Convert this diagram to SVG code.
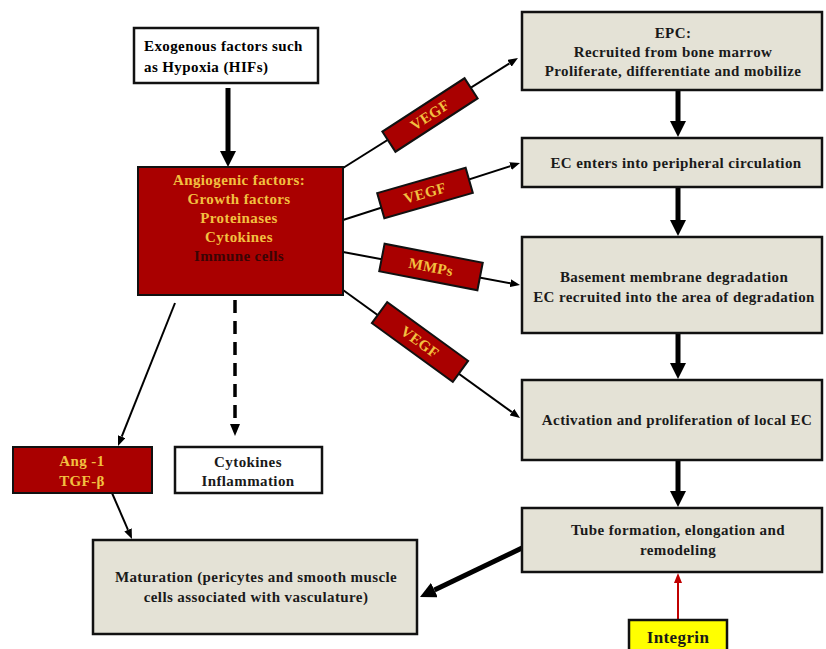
<svg xmlns="http://www.w3.org/2000/svg" width="826" height="649" viewBox="0 0 826 649">
<defs>
<style>
text{font-family:"Liberation Serif","Times New Roman",serif;font-weight:bold;font-size:15px;letter-spacing:0.4px;text-anchor:middle}
.box{fill:#E4E2D6;stroke:#111;stroke-width:2.5}
.wbox{fill:#fff;stroke:#111;stroke-width:2.5}
.rbox{fill:#A90000;stroke:#111;stroke-width:2}
.lbl{fill:#A90000;stroke:#111;stroke-width:2}
.dk{fill:#1a1a1a}
.yl{fill:#F2C040}
.thick{stroke:#000;stroke-width:5;fill:none}
.thin{stroke:#000;stroke-width:2;fill:none}
</style>
<marker id="big" viewBox="0 0 16 16" markerWidth="16" markerHeight="16" markerUnits="userSpaceOnUse" refX="0" refY="8" orient="auto"><path d="M0,0 L16,8 L0,16 z" fill="#000"/></marker>
<marker id="sm" viewBox="0 0 10 8" markerWidth="10" markerHeight="8" markerUnits="userSpaceOnUse" refX="0" refY="4" orient="auto"><path d="M0,0 L10,4 L0,8 z" fill="#000"/></marker>
<marker id="smr" viewBox="0 0 10 8" markerWidth="10" markerHeight="8" markerUnits="userSpaceOnUse" refX="0" refY="4" orient="auto"><path d="M0,0 L10,4 L0,8 z" fill="#C00000"/></marker>
<marker id="mid" viewBox="0 0 12 10" markerWidth="12" markerHeight="10" markerUnits="userSpaceOnUse" refX="0" refY="5" orient="auto"><path d="M0,0 L12,5 L0,10 z" fill="#000"/></marker>
</defs>
<rect width="826" height="649" fill="#fff"/>

<g id="connectors">
<line class="thick" x1="228" y1="88" x2="228" y2="151" marker-end="url(#big)"/>
<line class="thin" x1="343" y1="168" x2="509.5" y2="63.3" marker-end="url(#sm)"/>
<line class="thin" x1="343" y1="220" x2="510.5" y2="166.1" marker-end="url(#sm)"/>
<line class="thin" x1="343" y1="252" x2="510.2" y2="283.2" marker-end="url(#sm)"/>
<line class="thin" x1="343" y1="290" x2="511.9" y2="412.1" marker-end="url(#sm)"/>
<line class="thin" x1="175" y1="303" x2="121.7" y2="436.7" marker-end="url(#sm)"/>
<line class="thin" x1="112" y1="493" x2="128" y2="529.8" marker-end="url(#sm)"/>
<line stroke="#000" stroke-width="3" x1="235" y1="294" x2="235" y2="283" marker-end="url(#mid)"/>
<line stroke="#000" stroke-width="3.5" stroke-dasharray="13,8" x1="235" y1="300" x2="235" y2="424" marker-end="url(#mid)"/>
<line class="thick" x1="678" y1="90" x2="678" y2="121" marker-end="url(#big)"/>
<line class="thick" x1="678" y1="187" x2="678" y2="220" marker-end="url(#big)"/>
<line class="thick" x1="678" y1="333" x2="678" y2="363" marker-end="url(#big)"/>
<line class="thick" x1="678" y1="460" x2="678" y2="491" marker-end="url(#big)"/>
<line class="thick" x1="522" y1="548" x2="434.4" y2="590.1" marker-end="url(#big)"/>
<line stroke="#C00000" stroke-width="2" x1="678" y1="620" x2="678" y2="583" marker-end="url(#smr)"/>
</g>

<g id="exogenous">
<rect class="wbox" x="134" y="28" width="184" height="55"/>
<text x="144" y="51" style="text-anchor:start">Exogenous factors such</text>
<text x="144" y="72" style="text-anchor:start">as Hypoxia (HIFs)</text>
</g>

<g id="angiogenic">
<rect class="rbox" x="138" y="167" width="205" height="128"/>
<text class="yl" x="239" y="185">Angiogenic factors:</text>
<text class="yl" x="239" y="204">Growth  factors</text>
<text class="yl" x="239" y="223">Proteinases</text>
<text class="yl" x="239" y="242">Cytokines</text>
<text x="239" y="261" fill="#3a0505">Immune  cells</text>
</g>

<g id="label-vegf1" transform="translate(430,115) rotate(-33)">
<rect class="lbl" x="-49" y="-12" width="98" height="24"/>
<text class="yl" x="0" y="5">VEGF</text>
</g>
<g id="label-vegf2" transform="translate(425,193) rotate(-16)">
<rect class="lbl" x="-46" y="-13" width="92" height="26"/>
<text class="yl" x="0" y="5">VEGF</text>
</g>
<g id="label-mmps" transform="translate(431,267) rotate(11)">
<rect class="lbl" x="-50" y="-14" width="100" height="28"/>
<text class="yl" x="0" y="5">MMPs</text>
</g>
<g id="label-vegf4" transform="translate(420,342) rotate(36)">
<rect class="lbl" x="-50" y="-13" width="100" height="26"/>
<text class="yl" x="0" y="5">VEGF</text>
</g>

<g id="epc">
<rect class="box" x="522" y="12" width="300" height="78"/>
<text class="dk" x="673" y="38">EPC:</text>
<text class="dk" x="673" y="57">Recruited from bone marrow</text>
<text class="dk" x="673" y="76">Proliferate, differentiate and mobilize</text>
</g>

<g id="ec">
<rect class="box" x="522" y="138" width="300" height="49"/>
<text class="dk" x="676" y="168">EC enters into peripheral  circulation</text>
</g>

<g id="basement">
<rect class="box" x="522" y="237" width="300" height="96"/>
<text class="dk" x="674" y="282">Basement membrane  degradation</text>
<text class="dk" x="674" y="302">EC recruited  into the area of degradation</text>
</g>

<g id="activation">
<rect class="box" x="522" y="380" width="300" height="80"/>
<text class="dk" x="677" y="425">Activation  and proliferation  of  local EC</text>
</g>

<g id="tube">
<rect class="box" x="522" y="508" width="300" height="64"/>
<text class="dk" x="678" y="535">Tube formation,  elongation  and</text>
<text class="dk" x="678" y="555">remodeling</text>
</g>

<g id="integrin">
<rect x="629" y="620" width="98" height="34" fill="#FFFF00" stroke="#111" stroke-width="2.5"/>
<text class="dk" x="678" y="643" style="font-size:17px">Integrin</text>
</g>

<g id="ang1">
<rect class="rbox" x="13" y="447" width="139" height="46"/>
<text class="yl" x="82" y="466">Ang -1</text>
<text class="yl" x="82" y="486">TGF-β</text>
</g>

<g id="cytokines">
<rect class="wbox" x="175" y="447" width="147" height="46"/>
<text class="dk" x="248" y="467">Cytokines</text>
<text class="dk" x="248" y="486">Inflammation</text>
</g>

<g id="maturation">
<rect class="box" x="93" y="540" width="324" height="94"/>
<text class="dk" x="256" y="582">Maturation (pericytes and  smooth muscle</text>
<text class="dk" x="256" y="602">cells associated with  vasculature)</text>
</g>
</svg>
